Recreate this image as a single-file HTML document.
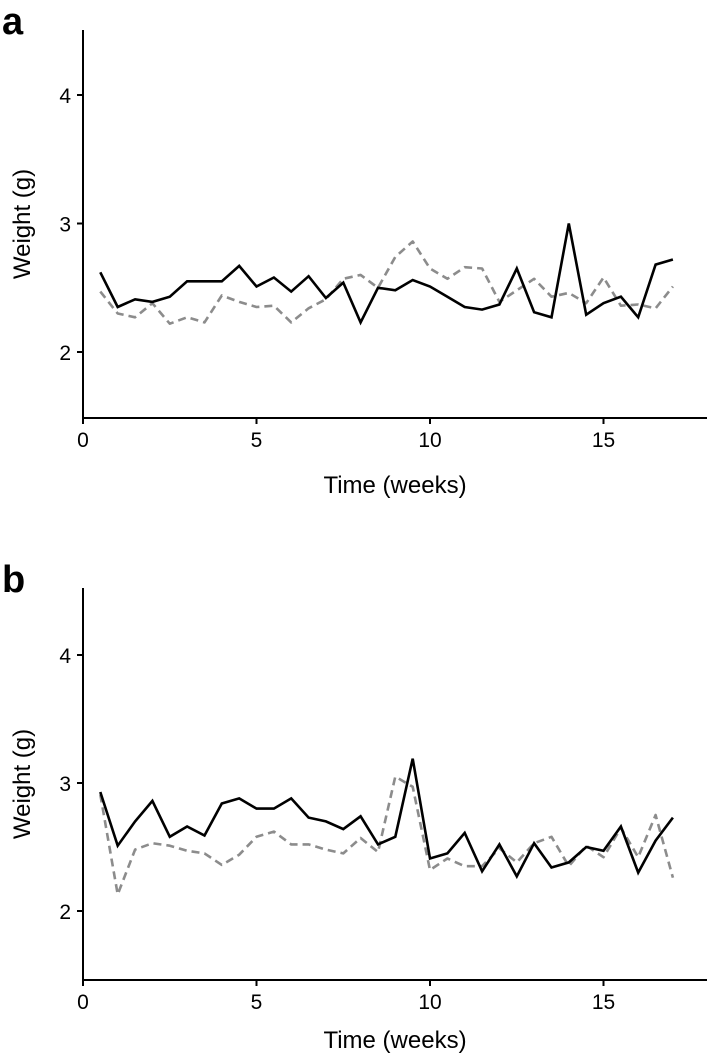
<!DOCTYPE html>
<html><head><meta charset="utf-8"><style>
html,body{margin:0;padding:0;background:#fff;}
svg{display:block;font-family:"Liberation Sans",Arial,sans-serif;}
</style></head><body>
<svg id="chart" width="708" height="1058" viewBox="0 0 708 1058"></svg>
<script>
const weeks = [0.5,1,1.5,2,2.5,3,3.5,4,4.5,5,5.5,6,6.5,7,7.5,8,8.5,9,9.5,10,10.5,11,11.5,12,12.5,13,13.5,14,14.5,15,15.5,16,16.5,17];
const aSolid = [2.62,2.35,2.41,2.39,2.43,2.55,2.55,2.55,2.67,2.51,2.58,2.47,2.59,2.42,2.54,2.23,2.50,2.48,2.56,2.51,2.43,2.35,2.33,2.37,2.65,2.31,2.27,3.0,2.29,2.38,2.43,2.27,2.68,2.72];
const aDashed = [2.47,2.30,2.27,2.38,2.22,2.27,2.23,2.44,2.39,2.35,2.36,2.23,2.34,2.41,2.57,2.60,2.50,2.74,2.86,2.65,2.57,2.66,2.65,2.39,2.48,2.57,2.43,2.46,2.38,2.58,2.36,2.37,2.34,2.51];
const bSolid = [2.93,2.51,2.70,2.86,2.58,2.66,2.59,2.84,2.88,2.80,2.80,2.88,2.73,2.70,2.64,2.74,2.52,2.58,3.19,2.41,2.45,2.61,2.31,2.52,2.27,2.53,2.34,2.38,2.50,2.47,2.66,2.30,2.55,2.73];
const bDashed = [2.91,2.13,2.48,2.53,2.51,2.47,2.45,2.36,2.44,2.58,2.62,2.52,2.52,2.48,2.45,2.57,2.46,3.05,2.97,2.32,2.41,2.35,2.35,2.49,2.38,2.53,2.58,2.35,2.51,2.42,2.65,2.42,2.75,2.26];
const xTicks = [0,5,10,15];
const yTicks = [2,3,4];

const svg = document.getElementById('chart');
const NS = 'http://www.w3.org/2000/svg';
function mk(tag, attrs, parent){const e=document.createElementNS(NS,tag);for(const k in attrs)e.setAttribute(k,attrs[k]);(parent||svg).appendChild(e);return e;}

function panel(letter, top, axisY, y2px, perUnit, solid, dashed, titleOff){
  const g = mk('g',{});
  
  
  const x0 = 83, xr = 707;
  const xs = w => x0 + w*34.7;
  const ys = v => y2px - (v-2)*perUnit;
  const lab = mk('text',{x:2,y:top+4,'font-size':38,'font-weight':'bold'},g);
  lab.textContent = letter;
  
  
  const ya = mk('line',{x1:x0,y1:top,x2:x0,y2:axisY,stroke:'#000','stroke-width':2},g);
  
  
  const xa = mk('line',{x1:x0-1,y1:axisY,x2:xr,y2:axisY,stroke:'#000','stroke-width':2},g);
  
  
  yTicks.forEach(t=>{
    const y = ys(t);
    mk('line',{x1:x0-6,y1:y,x2:x0,y2:y,stroke:'#000','stroke-width':2},g);
    const tx = mk('text',{x:x0-12,y:y+8,'font-size':21,'text-anchor':'end'},g);
    tx.textContent = t;
    
    
  });
  xTicks.forEach(t=>{
    const x = xs(t);
    mk('line',{x1:x,y1:axisY,x2:x,y2:axisY+6,stroke:'#000','stroke-width':2},g);
    const tx = mk('text',{x:x,y:axisY+29,'font-size':21,'text-anchor':'middle'},g);
    tx.textContent = t;
    
    
  });
  const xt = mk('text',{x:395,y:axisY+titleOff,'font-size':24,'text-anchor':'middle'},g);
  xt.textContent = 'Time (weeks)';
  
  
  const ymid = (top+axisY)/2;
  const yt = mk('text',{x:30,y:ymid,'font-size':24,'text-anchor':'middle',transform:`rotate(-90 30 ${ymid})`},g);
  yt.textContent = 'Weight (g)';
  
  
  const pts = arr => arr.map((v,i)=>xs(weeks[i]).toFixed(1)+','+ys(v).toFixed(1)).join(' ');
  const d = mk('polyline',{points:pts(dashed),fill:'none',stroke:'#8c8c8c','stroke-width':2.6,'stroke-dasharray':'8,5','stroke-linejoin':'round'},g);
  
  
  const s = mk('polyline',{points:pts(solid),fill:'none',stroke:'#000','stroke-width':2.6,'stroke-linejoin':'miter'},g);
  
  
}
panel('a', 30, 418, 352, 128.5, aSolid, aDashed, 75);
panel('b', 588, 980, 911, 128, bSolid, bDashed, 68);
</script>
</body></html>
